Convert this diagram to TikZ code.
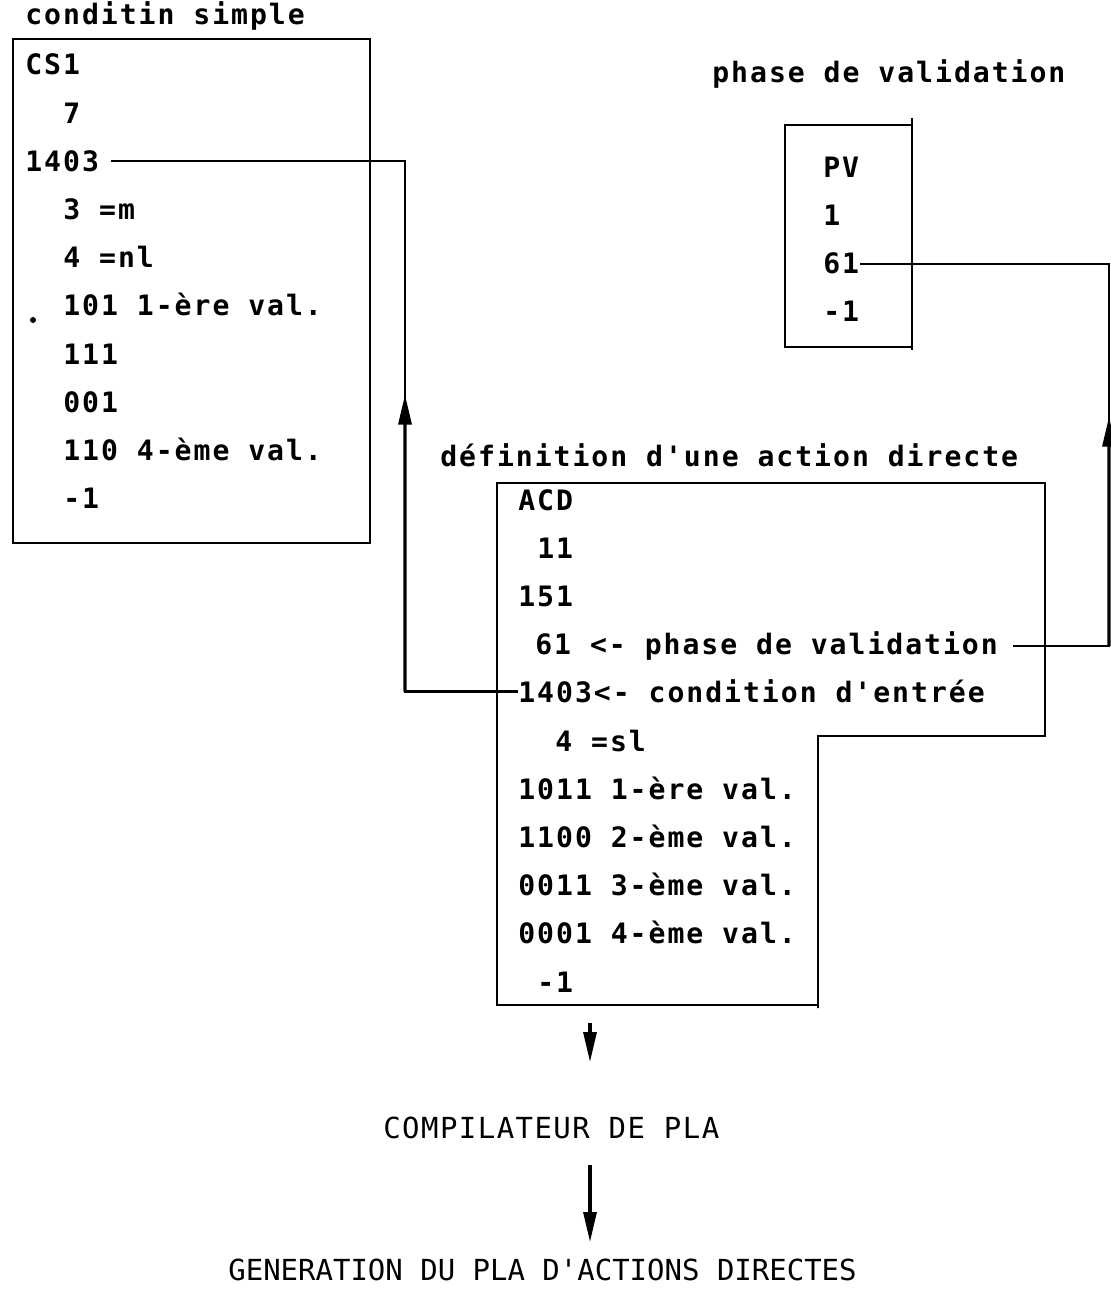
\documentclass[tikz,border=0pt]{standalone}
\usepackage{fontspec}
\setmonofont{DejaVu Sans Mono}[LetterSpace=7]
\usetikzlibrary{positioning,arrows.meta,calc}

\begin{document}
\begin{tikzpicture}[
  x=0.02cm,y=-0.02cm,
  font=\ttfamily\bfseries\fontsize{16}{18}\selectfont,
  ln/.style={anchor=base west,inner sep=0},
  hd/.style={anchor=base west,inner sep=0},
  big/.style={anchor=base west,inner sep=0,font=\ttfamily\fontsize{16.5}{18}\selectfont\addfontfeatures{LetterSpace=#1}},
  box/.style={line width=1.6pt},
  wire/.style={line width=1.3pt},
  a/.style={-{Triangle[length=6mm,width=2.6mm]},line width=1.8pt},
]
\useasboundingbox (0,0) rectangle (1111,1290);

% --- condition simple ---
\node[hd] (hcs) at (25,25) {conditin simple};
\draw[box] (13,39) rectangle (370,543);
\foreach \dx/\t [count=\i] in {0/CS1,38/7,0/1403,38/3 =m,38/4 =nl,38/101 1-ère val.,38/111,38/001,38/110 4-ème val.,38/-1}
  \node[ln] (cs\i) at (25+\dx,{75+48.2*(\i-1)}) {\t};
\fill (33,320) circle[radius=0.06cm];

% --- phase de validation ---
\node[hd] (hpv) at (712,83) {phase de validation};
\draw[box] (912,125) -- (785,125) -- (785,347) -- (912,347);
\draw[box] (912,118) -- (912,350);
\foreach \t [count=\i] in {PV,1,61,-1}
  \node[ln] (pv\i) at (823,{178+48*(\i-1)}) {\t};

% --- definition d'une action directe ---
\node[hd] (hacd) at (440,466) {définition d'une action directe};
\draw[box] (497,483) -- (1045,483) -- (1045,736) -- (818,736) -- (818,1008) -- (818,1005) -- (497,1005) -- cycle;
\foreach \dx/\t [count=\i] in {0/ACD,19/11,0/151,17/61 <- phase de validation,0/1403<- condition d'entrée,37/4 =sl,0/1011 1-ère val.,0/1100 2-ème val.,0/0011 3-ème val.,0/0001 4-ème val.,19/-1}
  \node[ln] (acd\i) at (518+\dx,{510+48.2*(\i-1)}) {\t};

% --- links back to the definitions ---
\coordinate (lk) at (405,0);
\coordinate (rk) at (1109,0);
\draw[wire,shorten >=2.4mm] (acd5.west) -- (acd5.west -| lk) -- (lk |- cs3.east) -- (cs3.east);
\draw[a] (acd5.west -| lk) -- ($(acd5.west -| lk)!0.56!(lk |- cs3.east)$);
\draw[wire,shorten <=3mm] (acd4.east) -- (acd4.east -| rk) -- (rk |- pv3.east) -- (pv3.east);
\draw[a] (acd4.east -| rk) -- ($(acd4.east -| rk)!0.6!(rk |- pv3.east)$);

% --- compilation ---
\coordinate (acdB) at (590,1023);
\coordinate (cmpT) at (590,1062);
\node[big=5] (cmp) at (383,1138) {COMPILATEUR DE PLA};
\coordinate (cmpB) at (590,1165);
\coordinate (genT) at (590,1242);
\node[big=0] (gen) at (228,1280) {GENERATION DU PLA D'ACTIONS DIRECTES};
\draw[a] (acdB) -- (cmpT);
\draw[a] (cmpB) -- (genT);
\end{tikzpicture}
\end{document}
